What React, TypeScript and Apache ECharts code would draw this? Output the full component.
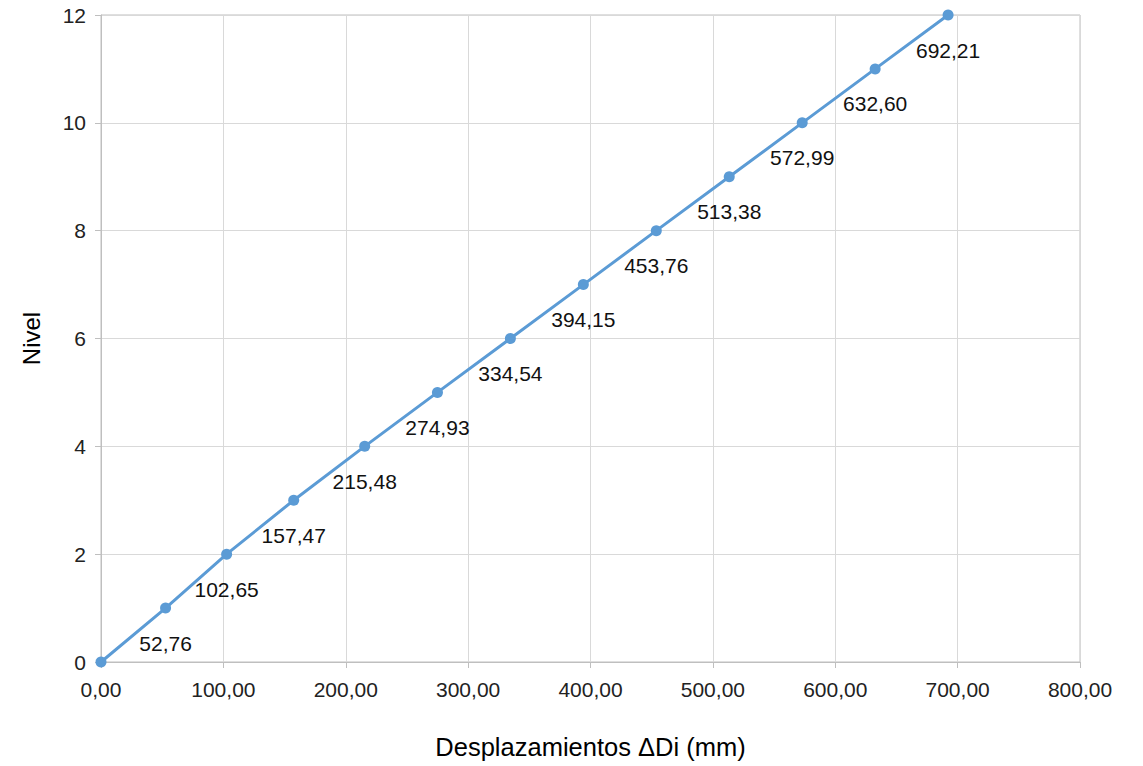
import React, { useEffect, useRef } from "react";
import * as echarts from "echarts";

const desplazamientos: number[] = [0, 52.76, 102.65, 157.47, 215.48, 274.93, 334.54, 394.15, 453.76, 513.38, 572.99, 632.6, 692.21];
const niveles: number[] = [0, 1, 2, 3, 4, 5, 6, 7, 8, 9, 10, 11, 12];
const xAxisTitle = "Desplazamientos \u0394Di (mm)";
const yAxisTitle = "Nivel";

const fmt = (v: number) => v.toFixed(2).replace(".", ",");

export default function App() {
  const ref = useRef<HTMLDivElement>(null);
  useEffect(() => {
    if (!ref.current) return;
    const chart = echarts.init(ref.current, undefined, { renderer: "svg" });
    const font = "'Liberation Sans', Arial, sans-serif";
    chart.setOption({
      animation: false,
      backgroundColor: "#ffffff",
      textStyle: { fontFamily: font },
      grid: {
        left: 101,
        right: 63,
        top: 15,
        bottom: 104,
        show: true,
        borderColor: "#bfbfbf",
        borderWidth: 1,
        containLabel: false,
      },
      xAxis: {
        type: "value",
        min: 0,
        max: 800,
        interval: 100,
        name: xAxisTitle,
        nameLocation: "middle",
        nameGap: 72,
        nameTextStyle: { fontSize: 25.5, color: "#000", fontFamily: font },
        axisLine: { show: true, lineStyle: { color: "#bfbfbf", width: 1 } },
        axisTick: { show: true, length: 6, lineStyle: { color: "#bfbfbf" } },
        axisLabel: { fontSize: 21, color: "#222", margin: 17, formatter: (v: number) => fmt(v), fontFamily: font },
        splitLine: { show: true, lineStyle: { color: "#d9d9d9", width: 1 } },
      },
      yAxis: {
        type: "value",
        min: 0,
        max: 12,
        interval: 2,
        name: yAxisTitle,
        nameLocation: "middle",
        nameGap: 58,
        nameRotate: 90,
        nameTextStyle: { fontSize: 24, color: "#000", fontFamily: font },
        axisLine: { show: true, lineStyle: { color: "#bfbfbf", width: 1 } },
        axisTick: { show: true, length: 6, lineStyle: { color: "#bfbfbf" } },
        axisLabel: { fontSize: 21, color: "#222", margin: 15, fontFamily: font },
        splitLine: { show: true, lineStyle: { color: "#d9d9d9", width: 1 } },
      },
      series: [
        {
          type: "line",
          data: desplazamientos.map((x, i) => [x, niveles[i]]),
          symbol: "circle",
          symbolSize: 11,
          lineStyle: { color: "#5b9bd5", width: 3 },
          itemStyle: { color: "#5b9bd5" },
          label: {
            show: true,
            position: "bottom",
            distance: 19,
            fontSize: 21,
            color: "#111",
            fontFamily: font,
            formatter: (p: any) => (p.dataIndex === 0 ? "" : fmt(p.value[0])),
          },
        },
      ],
    });
    return () => chart.dispose();
  }, []);
  return (
    <div
      ref={ref}
      style={{ position: "absolute", left: 0, top: 0, width: 1143, height: 766 }}
    />
  );
}
